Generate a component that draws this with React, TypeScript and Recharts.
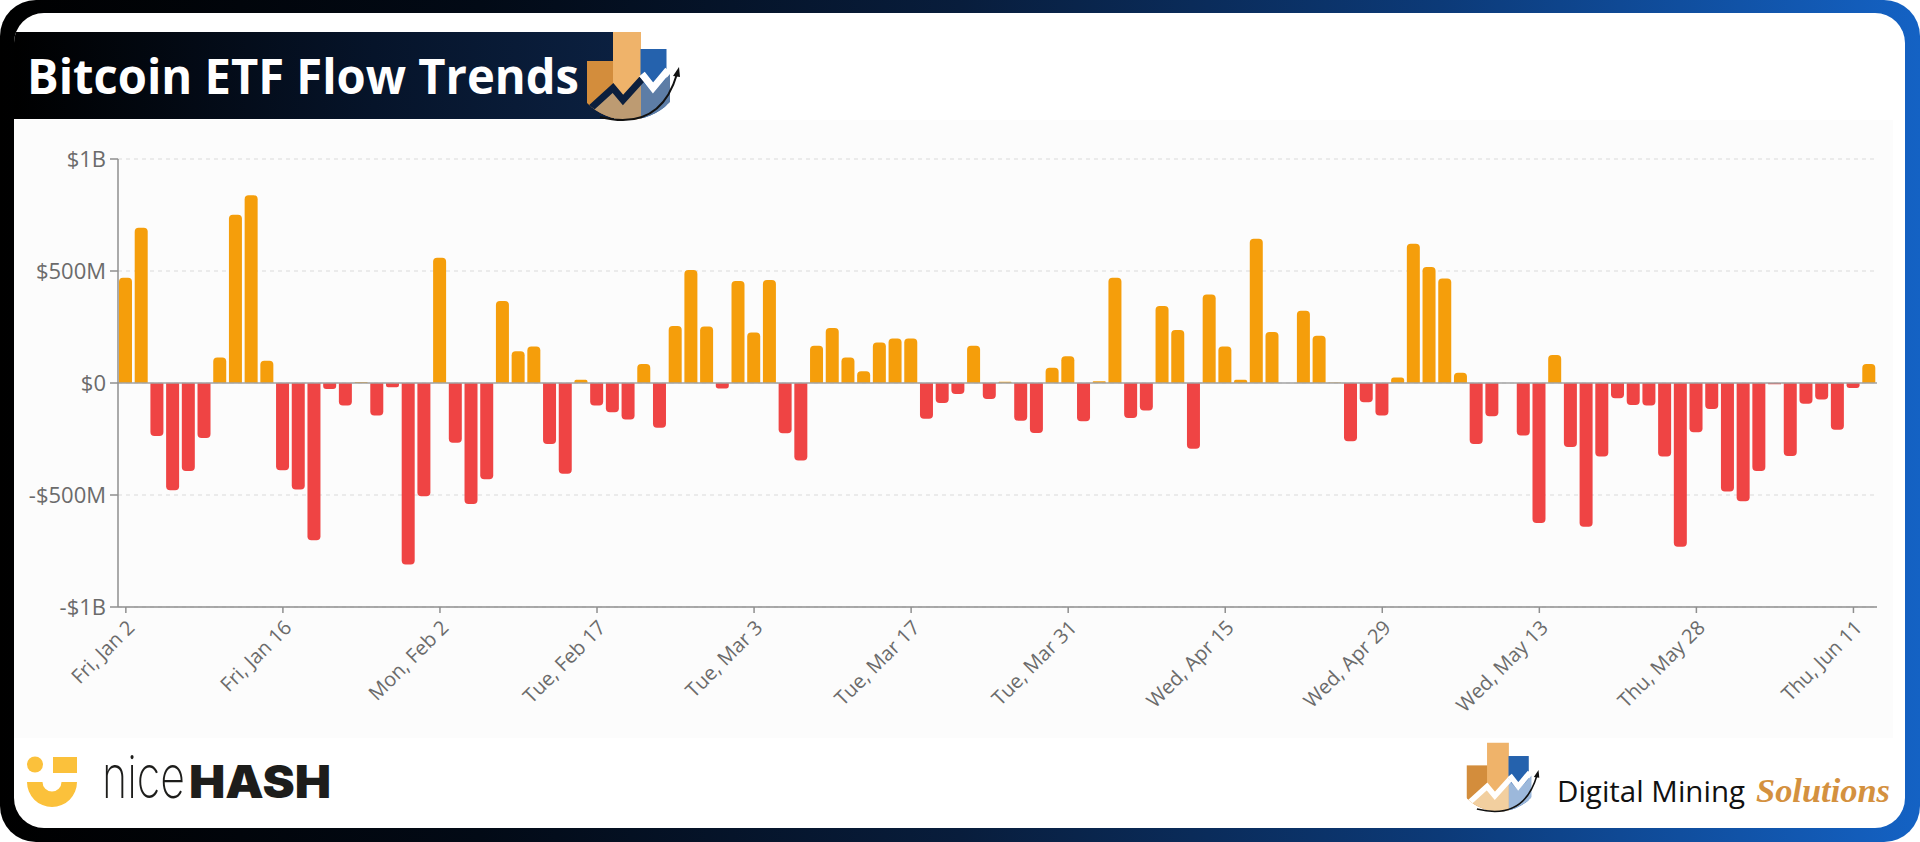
import React from "react";
import { BarChart, Bar, Cell, XAxis, YAxis, CartesianGrid, ReferenceLine } from "recharts";

// trading days, one list per month
const janDays = [
  "Fri, Jan 2", "Mon, Jan 5", "Tue, Jan 6", "Wed, Jan 7", "Thu, Jan 8", "Fri, Jan 9",
  "Mon, Jan 12", "Tue, Jan 13", "Wed, Jan 14", "Thu, Jan 15", "Fri, Jan 16",
  "Tue, Jan 20", "Wed, Jan 21", "Thu, Jan 22", "Fri, Jan 23",
  "Mon, Jan 26", "Tue, Jan 27", "Wed, Jan 28", "Thu, Jan 29", "Fri, Jan 30",
];
const febDays = [
  "Mon, Feb 2", "Tue, Feb 3", "Wed, Feb 4", "Thu, Feb 5", "Fri, Feb 6",
  "Mon, Feb 9", "Tue, Feb 10", "Wed, Feb 11", "Thu, Feb 12", "Fri, Feb 13",
  "Tue, Feb 17", "Wed, Feb 18", "Thu, Feb 19", "Fri, Feb 20",
  "Mon, Feb 23", "Tue, Feb 24", "Wed, Feb 25", "Thu, Feb 26", "Fri, Feb 27",
];
const marDays = [
  "Mon, Mar 2", "Tue, Mar 3", "Wed, Mar 4", "Thu, Mar 5", "Fri, Mar 6",
  "Mon, Mar 9", "Tue, Mar 10", "Wed, Mar 11", "Thu, Mar 12", "Fri, Mar 13",
  "Mon, Mar 16", "Tue, Mar 17", "Wed, Mar 18", "Thu, Mar 19", "Fri, Mar 20",
  "Mon, Mar 23", "Tue, Mar 24", "Wed, Mar 25", "Thu, Mar 26", "Fri, Mar 27",
  "Mon, Mar 30", "Tue, Mar 31",
];
const aprDays = [
  "Wed, Apr 1", "Thu, Apr 2",
  "Mon, Apr 6", "Tue, Apr 7", "Wed, Apr 8", "Thu, Apr 9", "Fri, Apr 10",
  "Mon, Apr 13", "Tue, Apr 14", "Wed, Apr 15", "Thu, Apr 16", "Fri, Apr 17",
  "Mon, Apr 20", "Tue, Apr 21", "Wed, Apr 22", "Thu, Apr 23", "Fri, Apr 24",
  "Mon, Apr 27", "Tue, Apr 28", "Wed, Apr 29", "Thu, Apr 30",
];
const mayDays = [
  "Fri, May 1",
  "Mon, May 4", "Tue, May 5", "Wed, May 6", "Thu, May 7", "Fri, May 8",
  "Mon, May 11", "Tue, May 12", "Wed, May 13", "Thu, May 14", "Fri, May 15",
  "Mon, May 18", "Tue, May 19", "Wed, May 20", "Thu, May 21", "Fri, May 22",
  "Tue, May 26", "Wed, May 27", "Thu, May 28", "Fri, May 29",
];
const junDays = [
  "Mon, Jun 1", "Tue, Jun 2", "Wed, Jun 3", "Thu, Jun 4", "Fri, Jun 5",
  "Mon, Jun 8", "Tue, Jun 9", "Wed, Jun 10", "Thu, Jun 11", "Fri, Jun 12",
];

// net flows in $M
const janFlows = [470, 693, -237, -479, -393, -245, 114, 751, 838, 99, -390, -475, -702, -27, -101, 5, -145, -19, -810, -506];
const febFlows = [559, -267, -540, -430, 366, 142, 163, -272, -405, 15, -101, -131, -163, 85, -200, 255, 504, 252, -24];
const marFlows = [455, 225, 460, -224, -346, 166, 246, 114, 53, 181, 199, 199, -160, -89, -49, 166, -71, 6, -168, -223, 68, 119];
const aprFlows = [-171, 8, 470, -156, -123, 344, 237, -294, 395, 163, 15, 644, 228, 0, 322, 211, 2, -260, -86, -145, 25];
const mayFlows = [622, 518, 466, 46, -272, -148, 0, -234, -625, 125, -286, -642, -328, -68, -98, -101, -328, -731, -220, -116];
const junFlows = [-484, -528, -393, -6, -326, -93, -74, -209, -22, 85];

const yTicks = [-1000, -500, 0, 500, 1000];

const days = [...janDays, ...febDays, ...marDays, ...aprDays, ...mayDays, ...junDays];
const flows = [...janFlows, ...febFlows, ...marFlows, ...aprFlows, ...mayFlows, ...junFlows];
const chartData = days.map((day, i) => ({ day, flow: flows[i] }));

const INFLOW = "#f59e0b";
const OUTFLOW = "#ef4444";
const TICK = "#6b6b6b";
const FONT = "'Open Sans', 'Liberation Sans', sans-serif";

const formatMoney = (v: number) => {
  if (v === 0) return "$0";
  const sign = v < 0 ? "-" : "";
  const a = Math.abs(v);
  return a >= 1000 ? `${sign}$${a / 1000}B` : `${sign}$${a}M`;
};

const DayTick = ({ x, y, payload }: any) => (
  <g transform={`translate(${x},${y})`}>
    <text x={0} y={0} dy={14} textAnchor="end" fill={TICK} fontSize={20} fontFamily={FONT} transform="rotate(-45)">
      {payload.value}
    </text>
  </g>
);

// bar + zigzag brand mark (used in the title and in the footer)
const BarsMark = ({ tx, ty, s, zig, lowA, lowB, id }: any) => (
  <g transform={`translate(${tx},${ty}) scale(${s})`}>
    <defs>
      <clipPath id={id}>
        <circle cx={68} cy={62} r={58} />
      </clipPath>
    </defs>
    <g clipPath={`url(#${id})`}>
      <rect x={27} y={61} width={27} height={70} fill="#d38d3c" />
      <rect x={53} y={32} width={28} height={99} fill="#efb36a" />
      <rect x={80.5} y={49} width={26} height={82} fill="#2562ad" />
      <polygon points="20,117 53,88 63,100 81,80 81,131 20,131" fill={lowA} />
      <polygon points="81,80 93,93 110,74 110,131 81,131" fill={lowB} />
      <polyline points="20,118 53,88 63,100 82,79" fill="none" stroke={zig} strokeWidth={7} strokeLinejoin="miter" />
      <polyline points="82,74 93,88 108,70" fill="none" stroke="#ffffff" strokeWidth={7} />
    </g>
    <path d="M40,117 Q100,132 117,74" fill="none" stroke="#111" strokeWidth={2} />
    <polygon points="119,67 113,76 120,77" fill="#111" />
  </g>
);

export default function App() {
  return (
    <div style={{ position: "absolute", left: 0, top: 0, width: 1920, height: 842, background: "#fff", overflow: "hidden", fontFamily: FONT }}>
      <div
        style={{
          position: "absolute", left: 0, top: 0, width: 1920, height: 842, borderRadius: 36,
          background: "linear-gradient(90deg, #000000 0%, #020a16 25%, #081d3c 50%, #0c3a78 75%, #1462c4 100%)",
        }}
      />
      <div style={{ position: "absolute", left: 14, top: 13, width: 1891, height: 815, borderRadius: 30, background: "#fff", overflow: "hidden" }}>
        <div
          style={{
            position: "absolute", left: 0, top: 19, width: 600, height: 87,
            background: "linear-gradient(90deg, #000000 0%, #06142a 60%, #0b2040 100%)",
          }}
        />
        <div style={{ position: "absolute", left: 0, top: 107, width: 1879, height: 618, background: "#fcfcfc" }}>
          <BarChart width={1879} height={618} data={chartData} margin={{ top: 39, right: 16, bottom: 0, left: 0 }} barSize={13}>
            <CartesianGrid vertical={false} stroke="#dadada" strokeDasharray="4 4" />
            <XAxis
              dataKey="day"
              interval={9}
              height={131}
              tick={<DayTick />}
              tickSize={6}
              tickMargin={6}
              stroke="#8f8f8f"
              strokeWidth={1.5}
            />
            <YAxis
              domain={[-1000, 1000]}
              ticks={yTicks}
              tickFormatter={formatMoney}
              width={104}
              tickSize={8}
              tickMargin={4}
              stroke="#8f8f8f"
              strokeWidth={1.5}
              tick={{ fill: TICK, fontSize: 22, fontFamily: FONT }}
            />
            <ReferenceLine y={0} stroke="#a3a3a3" strokeWidth={1.5} />
            <Bar dataKey="flow" isAnimationActive={false} radius={[4, 4, 0, 0]}>
              {chartData.map((d, i) => (
                <Cell key={i} fill={d.flow >= 0 ? INFLOW : OUTFLOW} />
              ))}
            </Bar>
          </BarChart>
        </div>
      </div>

      <svg width={1920} height={842} style={{ position: "absolute", left: 0, top: 0, pointerEvents: "none" }}>
        <text x={27} y={94} fontSize={48} fontWeight={700} fill="#ffffff" fontFamily={FONT} textLength={552} lengthAdjust="spacingAndGlyphs">
          Bitcoin ETF Flow Trends
        </text>
        <BarsMark id="clipTitle" tx={560} ty={0} s={1} zig="#0c1f3d" lowA="#bd9b72" lowB="#5d7da6" />

        {/* nicehash */}
        <circle cx={35} cy={764.5} r={8} fill="#fbc13b" />
        <rect x={53} y={757} width={24} height={16} fill="#fbc13b" />
        <path d="M27,782 H42.5 A9.5,9.5 0 0 0 61.5,782 H77 A25,25 0 0 1 27,782 Z" fill="#fbc13b" />
        <text x={0} y={0} transform="translate(102,798) scale(1,1.35)" fontSize={44} fontWeight={200} fill="#1d1d1b" fontFamily="Inter, 'DejaVu Sans', sans-serif" textLength={83} lengthAdjust="spacingAndGlyphs">
          nice
        </text>
        <text x={189} y={798} fontSize={45} fontWeight={900} fill="#1d1d1b" fontFamily="Inter, 'DejaVu Sans', sans-serif" textLength={142} lengthAdjust="spacingAndGlyphs">
          HASH
        </text>

        {/* Digital Mining Solutions */}
        <BarsMark id="clipFoot" tx={1445.7} ty={717.8} s={0.78} zig="#ffffff" lowA="#f2cf9f" lowB="#9cb8db" />
        <text x={1557} y={802} fontSize={30} fill="#111" fontFamily={FONT} textLength={188} lengthAdjust="spacingAndGlyphs">
          Digital Mining
        </text>
        <text x={1756} y={802} fontSize={34} fontWeight={700} fontStyle="italic" fill="#d4913f" fontFamily="'Liberation Serif', 'DejaVu Serif', serif" textLength={134} lengthAdjust="spacingAndGlyphs">
          Solutions
        </text>
      </svg>
    </div>
  );
}
